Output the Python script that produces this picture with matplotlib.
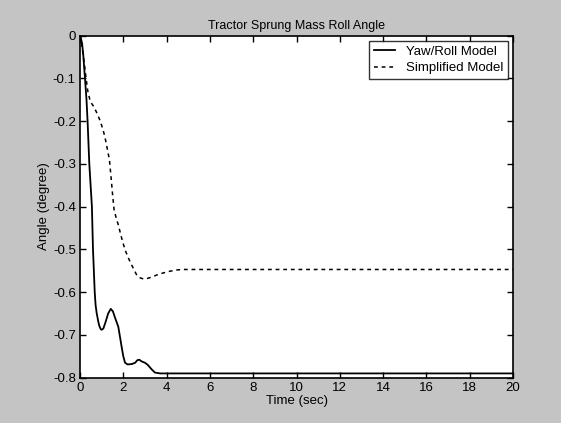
import matplotlib
matplotlib.use("Agg")
import matplotlib.pyplot as plt
import numpy as np

plt.rcParams['font.family'] = ['Liberation Sans', 'DejaVu Sans']

# Yaw/Roll model response
t_yawroll = [0, 0.05, 0.1, 0.15, 0.2, 0.23, 0.3, 0.35, 0.43, 0.55, 0.6, 0.68,
             0.72, 0.77, 0.83, 0.88, 0.95, 1.0, 1.08, 1.18, 1.3, 1.42, 1.52, 1.62,
             1.77, 1.92, 2.0, 2.08, 2.2, 2.4, 2.55, 2.65, 2.74, 2.85, 3.0, 3.13,
             3.3, 3.46, 3.7, 4.0, 20]
v_yawroll = [0, -0.008, -0.02, -0.045, -0.08, -0.1, -0.15, -0.2, -0.3, -0.4, -0.5, -0.6,
             -0.63, -0.649, -0.665, -0.677, -0.686, -0.688, -0.685, -0.67, -0.65, -0.639,
             -0.645, -0.66, -0.681, -0.727, -0.75, -0.765, -0.769, -0.768, -0.765, -0.759,
             -0.758, -0.762, -0.765, -0.77, -0.78, -0.788, -0.79, -0.79, -0.79]

# Simplified model response
t_simple = [0, 0.1, 0.2, 0.28, 0.36, 0.46, 0.55, 0.62, 0.75, 0.92, 1.05, 1.15, 1.25,
            1.36, 1.45, 1.51, 1.58, 1.77, 1.92, 2.08, 2.25, 2.39, 2.5, 2.62, 2.75,
            2.92, 3.1, 3.3, 3.54, 3.85, 4.16, 4.5, 4.77, 5.2, 20]
v_simple = [0, -0.03, -0.065, -0.1, -0.13, -0.151, -0.16, -0.165, -0.178, -0.198, -0.218,
            -0.237, -0.262, -0.291, -0.34, -0.375, -0.41, -0.443, -0.473, -0.501, -0.522,
            -0.537, -0.548, -0.56, -0.566, -0.569, -0.568, -0.565, -0.56, -0.555, -0.551,
            -0.548, -0.547, -0.547, -0.547]

x_ticks = [0, 2, 4, 6, 8, 10, 12, 14, 16, 18, 20]
y_ticks = [0, -0.1, -0.2, -0.3, -0.4, -0.5, -0.6, -0.7, -0.8]
y_tick_labels = ['0', '-0.1', '-0.2', '-0.3', '-0.4', '-0.5', '-0.6', '-0.7', '-0.8']

fig = plt.figure(figsize=(5.61, 4.23), dpi=100, facecolor='#c4c4c4')
ax = fig.add_axes([80/561, 1 - 377.7/423, 433/561, 342.2/423])
ax.set_facecolor('white')

ax.plot(t_yawroll, v_yawroll, color='black', lw=1.3, label='Yaw/Roll Model')
ax.plot(t_simple, v_simple, color='black', lw=1.1, linestyle=(0, (2.5, 2.5)),
        label='Simplified Model')

ax.set_xlim(0, 20)
ax.set_ylim(-0.8, 0)
ax.set_xticks(x_ticks)
ax.set_yticks(y_ticks)
ax.set_yticklabels(y_tick_labels)
ax.tick_params(direction='in', length=4, width=1, top=True, right=True,
               labelsize=9.5, pad=3, colors='black')
for s in ax.spines.values():
    s.set_linewidth(1.2)

ax.set_title('Tractor Sprung Mass Roll Angle', fontsize=9, pad=5)
ax.set_xlabel('Time (sec)', fontsize=9.5, labelpad=1)
ax.set_ylabel('Angle (degree)', fontsize=9.5, labelpad=2)

leg = ax.legend(loc='upper right', fontsize=9.5, frameon=True, fancybox=False,
                edgecolor='black', handlelength=1.6, borderpad=0.35,
                labelspacing=0.35, handletextpad=0.8, borderaxespad=0.4)
leg.get_frame().set_linewidth(1.0)

fig.savefig('out.png', dpi=100, facecolor=fig.get_facecolor())
